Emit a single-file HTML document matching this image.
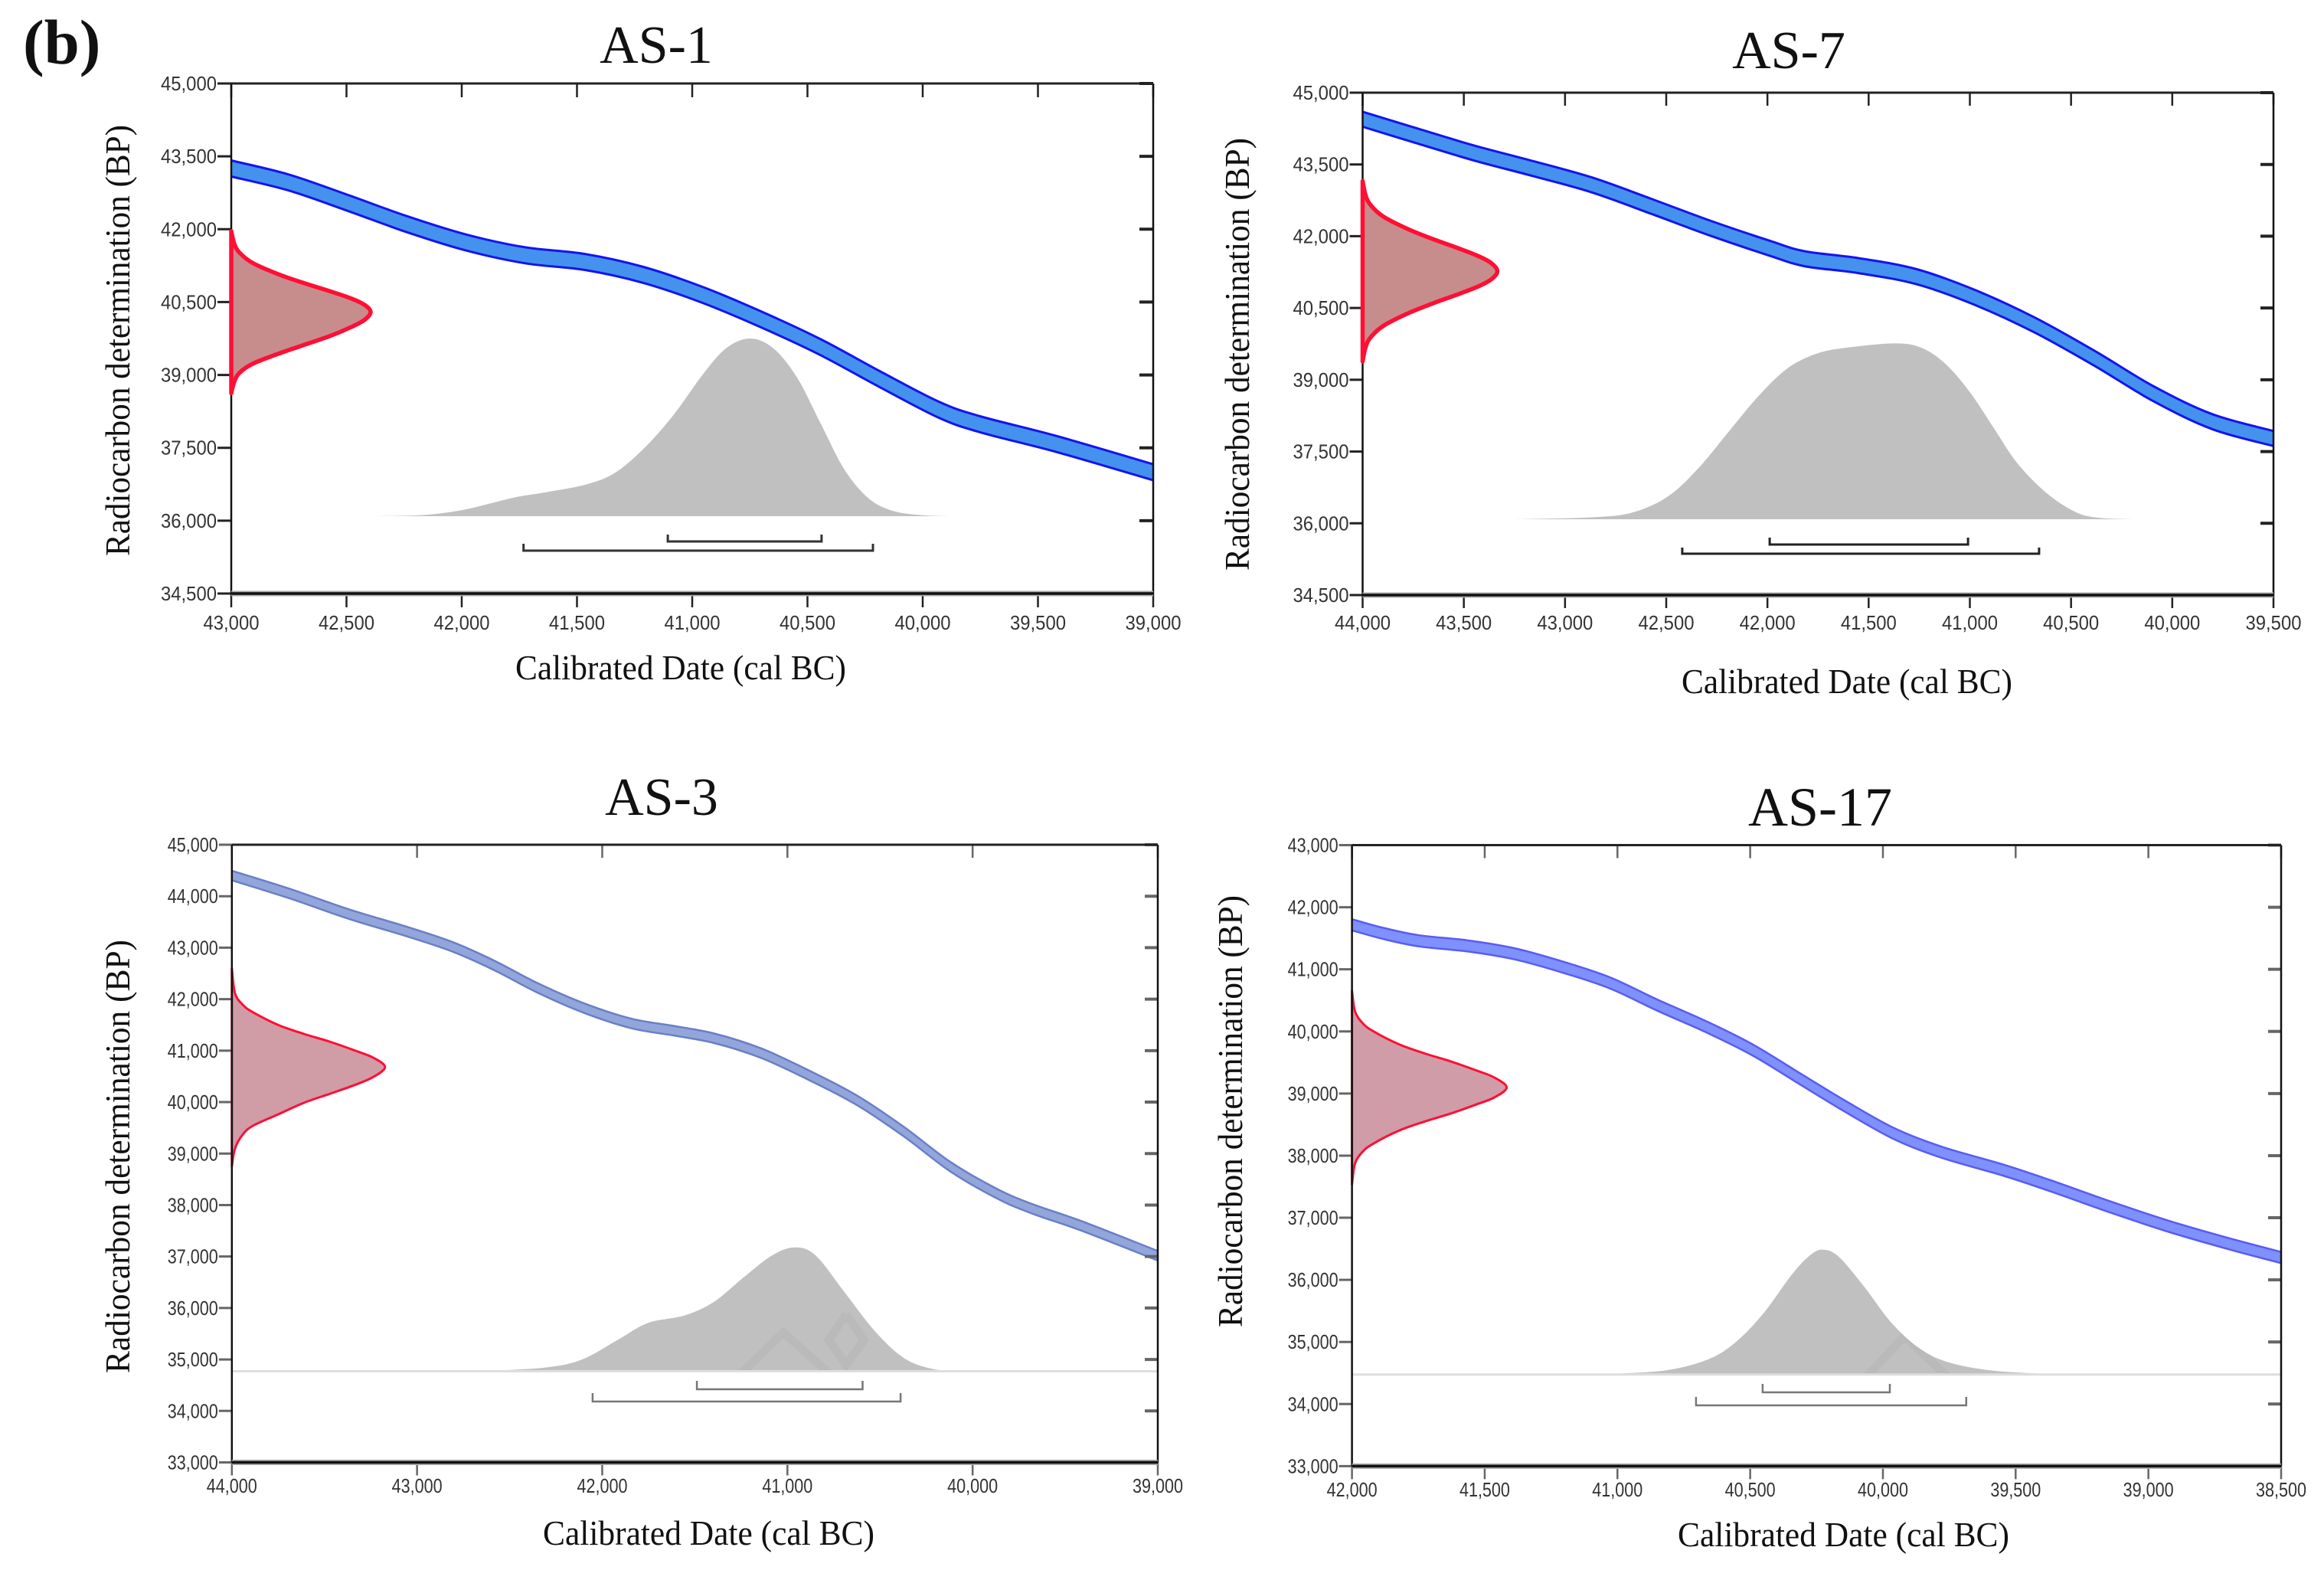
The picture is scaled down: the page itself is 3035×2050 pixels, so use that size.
<!DOCTYPE html>
<html lang="en">
<head>
<meta charset="utf-8">
<title>Radiocarbon calibration plots</title>
<style>
html,body{margin:0;padding:0;background:#fff;width:3035px;height:2050px;overflow:hidden}
svg{display:block}
.serif{font-family:"Liberation Serif",serif;fill:#111}
.tick{font-family:"Liberation Sans",sans-serif;font-size:26px;fill:#333}
</style>
</head>
<body>
<svg id="figure" xmlns="http://www.w3.org/2000/svg" width="3035" height="2050" viewBox="0 0 3035 2050">
  <rect width="3035" height="2050" fill="#fff"/>
  <text class="serif" x="30" y="83" font-size="83" font-weight="bold">(b)</text>

  <text class="serif" x="857" y="82" font-size="70" text-anchor="middle">AS-1</text>
  <text class="serif" x="2336" y="89" font-size="70" text-anchor="middle">AS-7</text>
  <text class="serif" x="864" y="1064" font-size="70" text-anchor="middle">AS-3</text>
  <text class="serif" x="2377" y="1078" font-size="72" text-anchor="middle">AS-17</text>

  <text class="serif" font-size="46" textLength="563" lengthAdjust="spacingAndGlyphs" transform="translate(169 726) rotate(-90)">Radiocarbon determination (BP)</text>
  <text class="serif" font-size="46" textLength="565" lengthAdjust="spacingAndGlyphs" transform="translate(1631 745) rotate(-90)">Radiocarbon determination (BP)</text>
  <text class="serif" font-size="46" textLength="566" lengthAdjust="spacingAndGlyphs" transform="translate(169 1793) rotate(-90)">Radiocarbon determination (BP)</text>
  <text class="serif" font-size="46" textLength="564" lengthAdjust="spacingAndGlyphs" transform="translate(1622 1733) rotate(-90)">Radiocarbon determination (BP)</text>

  <text class="serif" x="673" y="887" font-size="46" textLength="432" lengthAdjust="spacingAndGlyphs">Calibrated Date (cal BC)</text>
  <text class="serif" x="2196" y="905" font-size="46" textLength="432" lengthAdjust="spacingAndGlyphs">Calibrated Date (cal BC)</text>
  <text class="serif" x="709" y="2017" font-size="46" textLength="433" lengthAdjust="spacingAndGlyphs">Calibrated Date (cal BC)</text>
  <text class="serif" x="2191" y="2019" font-size="46" textLength="433" lengthAdjust="spacingAndGlyphs">Calibrated Date (cal BC)</text>
</svg>

<script>
/* ---------- AS-1 data ---------- */
const as1XTicks = [43000,42500,42000,41500,41000,40500,40000,39500,39000];
const as1YTicks = [45000,43500,42000,40500,39000,37500,36000,34500];
const as1CurveDates = [43000,42750,42494,42238,41981,41725,41468,41212,40956,40699,40443,40187,39930,39751,39417,39000];
const as1CurveBp = [43250,42961,42541,42104,41726,41463,41327,41059,40649,40139,39571,38915,38284,37985,37575,36997];
const as1CurveError = 165;
const as1SampleBp = [41962,41699,41515,41305,41069,40885,40717,40569,40438,40296,40139,39991,39808,39624,39440,39230,39046,38862,38625];
const as1SampleDensity = [0,.022,.06,.154,.341,.528,.715,.865,.959,1,.959,.865,.715,.528,.341,.154,.06,.022,0];
const as1CalDates = [42366,42161,41981,41776,41648,41468,41340,41212,41084,40956,40853,40750,40648,40545,40443,40340,40238,40135,40007,39879];
const as1CalDensity = [0,.007,.039,.104,.132,.176,.24,.378,.565,.794,.945,1,.945,.78,.522,.263,.104,.032,.006,0];
const as1Range68 = [41106,40439];
const as1Range95 = [41732,40216];

/* ---------- AS-7 data ---------- */
const as7XTicks = [44000,43500,43000,42500,42000,41500,41000,40500,40000,39500];
const as7YTicks = [45000,43500,42000,40500,39000,37500,36000,34500];
const as7CurveDates = [44000,43744,43452,43160,42868,42576,42284,41992,41817,41554,41262,40971,40679,40387,40095,39803,39500];
const as7CurveBp = [44445,44113,43742,43416,43073,42628,42170,41753,41530,41388,41153,40713,40142,39456,38713,38125,37771];
const as7CurveError = 157;
const as7SampleBp = [43153,42855,42648,42410,42143,41933,41743,41577,41428,41268,41108,40959,40793,40603,40393,40126,39888,39681,39382];
const as7SampleDensity = [0,.022,.06,.154,.341,.528,.715,.865,.959,1,.959,.865,.715,.528,.341,.154,.06,.022,0];
const as7CalDates = [43248,42868,42664,42489,42343,42197,42051,41905,41759,41613,41365,41233,41116,41000,40883,40766,40620,40474,40357,40182];
const as7CalDensity = [0,.011,.039,.132,.288,.49,.692,.855,.941,.975,1,.972,.879,.723,.521,.319,.148,.039,.008,0];
const as7Range68 = [41989,41009];
const as7Range95 = [42421,40658];

/* ---------- AS-3 data ---------- */
const as3XTicks = [44000,43000,42000,41000,40000,39000];
const as3YTicks = [45000,44000,43000,42000,41000,40000,39000,38000,37000,36000,35000,34000,33000];
const as3CurveDates = [44000,43692,43373,43054,42799,42576,42352,42097,41842,41618,41395,41140,40884,40629,40374,40119,39863,39672,39416,39000];
const as3CurveBp = [44402,44056,43658,43312,43004,42643,42223,41824,41527,41389,41240,40947,40522,40044,39433,38742,38211,37918,37600,37015];
const as3CurveError = 93;
const as3SampleBp = [42600,42118,41895,41746,41498,41325,41176,41002,40868,40680,40482,40333,40159,39986,39762,39539,39366,39093,38746];
const as3SampleDensity = [0,.02,.07,.137,.303,.47,.637,.803,.92,1,.92,.803,.637,.47,.303,.137,.07,.02,0];
const as3CalDates = [42861,42623,42307,42109,41911,41753,41555,41397,41239,41080,40954,40843,40685,40526,40368,40210,40052];
const as3CalDensity = [0,.004,.03,.095,.258,.39,.451,.56,.755,.939,1,.928,.625,.321,.104,.017,0];
const as3Range68 = [41489,40594];
const as3Range95 = [42052,40389];

/* ---------- AS-17 data ---------- */
const as17XTicks = [42000,41500,41000,40500,40000,39500,39000,38500];
const as17YTicks = [43000,42000,41000,40000,39000,38000,37000,36000,35000,34000,33000];
const as17CurveDates = [42000,41881,41747,41567,41388,41208,41029,40849,40670,40490,40311,40131,39952,39772,39548,39368,39144,38919,38695,38500];
const as17CurveBp = [41717,41577,41458,41378,41250,41038,40783,40422,40083,39700,39233,38766,38342,38045,37769,37514,37174,36856,36580,36359];
const as17CurveError = 90;
const as17SampleBp = [40656,40321,40131,40004,39794,39646,39519,39373,39259,39098,38937,38823,38677,38550,38402,38192,38065,37875,37535];
const as17SampleDensity = [0,.02,.07,.137,.303,.47,.637,.803,.92,1,.92,.803,.637,.47,.303,.137,.07,.02,0];
const as17CalDates = [41143,41036,40822,40662,40555,40448,40341,40274,40226,40167,40073,39966,39859,39752,39591,39377,39270];
const as17CalDensity = [0,.004,.032,.118,.258,.495,.806,.955,1,.945,.71,.409,.204,.097,.032,.004,0];
const as17Range68 = [40453,39974];
const as17Range95 = [40704,39686];

/* ---------- panel layout (pixels and styles only) ---------- */
const panels = [
  {id:'as-1', l:302, r:1506, t:109, b:775, xd:[43000,39000], yd:[45000,34500],
   xt:as1XTicks, yt:as1YTicks, cd:as1CurveDates, cb:as1CurveBp, ce:as1CurveError,
   sb:as1SampleBp, sd:as1SampleDensity, gd:as1CalDates, gv:as1CalDensity, r68:as1Range68, r95:as1Range95,
   base:674, gh:232, rw:182, rsw:5.5, redOnTop:true,
   band:'#4591ee', edge:'#1414ee', esw:3, rfill:'#c78d8d', tick:'#222', labW:73, xLabY:822,
   b68:[698,707], b95:[710,719], br:'#333', brw:3, baseline:false, tl:18},
  {id:'as-7', l:1779.5, r:2969, t:121, b:777, xd:[44000,39500], yd:[45000,34500],
   xt:as7XTicks, yt:as7YTicks, cd:as7CurveDates, cb:as7CurveBp, ce:as7CurveError,
   sb:as7SampleBp, sd:as7SampleDensity, gd:as7CalDates, gv:as7CalDensity, r68:as7Range68, r95:as7Range95,
   base:678, gh:229.6, rw:176, rsw:5.5, redOnTop:true,
   band:'#4591ee', edge:'#1414ee', esw:3, rfill:'#c78d8d', tick:'#222', labW:73, xLabY:822,
   b68:[702,711], b95:[715,723], br:'#222', brw:3, baseline:false, tl:17},
  {id:'as-3', l:302.8, r:1512, t:1103, b:1909.5, xd:[44000,39000], yd:[45000,33000],
   xt:as3XTicks, yt:as3YTicks, cd:as3CurveDates, cb:as3CurveBp, ce:as3CurveError,
   sb:as3SampleBp, sd:as3SampleDensity, gd:as3CalDates, gv:as3CalDensity, r68:as3Range68, r95:as3Range95,
   base:1790.5, gh:161.7, rw:200, rsw:3, redOnTop:false,
   band:'#93a6dc', edge:'#6a7fc6', esw:2.5, rfill:'#d09ca6', tick:'#666', labW:66, xLabY:1949,
   b68:[1803,1814], b95:[1819,1830], br:'#777', brw:2.5, baseline:true, tl:17,
   marks:[[[966,1795],[1023,1740],[1085,1795]],[[1105,1716],[1128,1750],[1105,1782],[1082,1750],[1105,1716]]]},
  {id:'as-17', l:1765.6, r:2979, t:1103.5, b:1914.4, xd:[42000,38500], yd:[43000,33000],
   xt:as17XTicks, yt:as17YTicks, cd:as17CurveDates, cb:as17CurveBp, ce:as17CurveError,
   sb:as17SampleBp, sd:as17SampleDensity, gd:as17CalDates, gv:as17CalDensity, r68:as17Range68, r95:as17Range95,
   base:1794.7, gh:163, rw:202, rsw:3, redOnTop:false,
   band:'#7f90ff', edge:'#5a5cf0', esw:2.5, rfill:'#cf9ca8', tick:'#666', labW:66, xLabY:1954,
   b68:[1807,1818], b95:[1824,1835], br:'#777', brw:2.5, baseline:true, tl:17,
   marks:[[[2436,1799],[2487,1745],[2545,1799]]]}
];

const NS = 'http://www.w3.org/2000/svg';
const svg = document.getElementById('figure');

function mk(tag, attrs){
  const el = document.createElementNS(NS, tag);
  for (const k in attrs) el.setAttribute(k, attrs[k]);
  svg.appendChild(el);
  return el;
}
function scale(d0, d1, p0, p1){
  return v => p0 + (v - d0) / (d1 - d0) * (p1 - p0);
}
/* smooth path through pixel points (Catmull-Rom to Bezier) */
function smooth(pts, start){
  let d = (start ? 'M' : 'L') + pts[0][0].toFixed(1) + ' ' + pts[0][1].toFixed(1);
  for (let i = 0; i < pts.length - 1; i++){
    const p0 = pts[Math.max(i-1,0)], p1 = pts[i], p2 = pts[i+1], p3 = pts[Math.min(i+2,pts.length-1)];
    const c1x = p1[0] + (p2[0]-p0[0])/6, c1y = p1[1] + (p2[1]-p0[1])/6;
    const c2x = p2[0] - (p3[0]-p1[0])/6, c2y = p2[1] - (p3[1]-p1[1])/6;
    d += 'C' + c1x.toFixed(1) + ' ' + c1y.toFixed(1) + ' ' + c2x.toFixed(1) + ' ' + c2y.toFixed(1) + ' ' + p2[0].toFixed(1) + ' ' + p2[1].toFixed(1);
  }
  return d;
}
function fmt(v){
  const s = String(v);
  return s.slice(0, s.length-3) + ',' + s.slice(-3);
}

function drawPanel(p){
  const x = scale(p.xd[0], p.xd[1], p.l, p.r);
  const y = scale(p.yd[0], p.yd[1], p.t, p.b);

  /* calibrated date distribution */
  const gY = v => p.base - v * p.gh;
  const gPts = p.gd.map((d,i) => [x(d), gY(p.gv[i])]);
  const grayPath = smooth(gPts, true) + 'Z';
  const gray = mk('path', {d: grayPath, fill:'#c0c0c0'});
  
  

  if (p.marks){
    const clip = mk('clipPath', {id:'clip-' + p.id});
    
    
    const cp = document.createElementNS(NS, 'path');
    cp.setAttribute('d', grayPath);
    clip.appendChild(cp);
    p.marks.forEach(m => {
      const wm = mk('polyline', {points: m.map(q => q.join(',')).join(' '), fill:'none', stroke:'#bababa', 'stroke-width':11, 'clip-path':'url(#clip-' + p.id + ')'});
      
      
    });
  }
  if (p.baseline){
    const bl = mk('line', {x1:p.l, x2:p.r, y1:p.base, y2:p.base, stroke:'#dedede', 'stroke-width':3});
    
    
  }

  /* calibration curve band */
  const up = p.cd.map((d,i) => [x(d), y(p.cb[i] + p.ce)]);
  const lo = p.cd.map((d,i) => [x(d), y(p.cb[i] - p.ce)]);
  const bandPath = smooth(up, true) + smooth(lo.slice().reverse(), false) + 'Z';
  const band = mk('path', {d: bandPath, fill:p.band, stroke:'none'});
  
  
  const upE = mk('path', {d: smooth(up, true), fill:'none', stroke:p.edge, 'stroke-width':p.esw});
  
  
  const loE = mk('path', {d: smooth(lo, true), fill:'none', stroke:p.edge, 'stroke-width':p.esw});
  
  

  /* sample radiocarbon distribution */
  const drawRed = () => {
    const rPts = p.sb.map((b,i) => [p.l + p.sd[i] * p.rw, y(b)]);
    const red = mk('path', {d: smooth(rPts, true) + 'Z', fill:p.rfill, stroke:'#ff0f35', 'stroke-width':p.rsw, 'stroke-linejoin':'round'});
    
    
  };
  if (!p.redOnTop) drawRed();

  /* range brackets */
  [[p.r68, p.b68, '68'], [p.r95, p.b95, '95']].forEach(item => {
    const rg = item[0], yy = item[1];
    const d = 'M' + x(rg[0]).toFixed(1) + ' ' + yy[0] + 'V' + yy[1] + 'H' + x(rg[1]).toFixed(1) + 'V' + yy[0];
    const br = mk('path', {d: d, fill:'none', stroke:p.br, 'stroke-width':p.brw});
    
    
  });

  /* ticks */
  p.xt.forEach(v => {
    const tx = x(v);
    const top = mk('line', {x1:tx, x2:tx, y1:p.t, y2:p.t + p.tl, stroke:p.tick, 'stroke-width':2.5});
    
    
    const bot = mk('line', {x1:tx, x2:tx, y1:p.b, y2:p.b + p.tl, stroke:p.tick, 'stroke-width':2.5});
    
    
    const lab = mk('text', {class:'tick', x:tx, y:p.xLabY, 'text-anchor':'middle', textLength:p.labW, lengthAdjust:'spacingAndGlyphs'});
    lab.textContent = fmt(v);
    
    
  });
  p.yt.forEach(v => {
    const ty = y(v);
    const left = mk('line', {x1:p.l - p.tl, x2:p.l, y1:ty, y2:ty, stroke:p.tick, 'stroke-width':3});
    
    
    const right = mk('line', {x1:p.r - p.tl, x2:p.r, y1:ty, y2:ty, stroke:p.tick, 'stroke-width':4});
    
    
    const lab = mk('text', {class:'tick', x:p.l - p.tl - 1, y:ty + 9, 'text-anchor':'end', textLength:p.labW, lengthAdjust:'spacingAndGlyphs'});
    lab.textContent = fmt(v);
    
    
  });

  /* frame */
  const leftAxis = mk('line', {x1:p.l, x2:p.l, y1:p.t, y2:p.b, stroke:'#111', 'stroke-width':2.5});
  
  
  const rightAxis = mk('line', {x1:p.r, x2:p.r, y1:p.t, y2:p.b, stroke:'#111', 'stroke-width':2.5});
  
  
  const topAxis = mk('line', {x1:p.l, x2:p.r, y1:p.t, y2:p.t, stroke:'#222', 'stroke-width':3});
  
  
  const halo = mk('line', {x1:p.l, x2:p.r, y1:p.b, y2:p.b, stroke:'#aaa', 'stroke-width':7});
  
  
  const botAxis = mk('line', {x1:p.l, x2:p.r, y1:p.b, y2:p.b, stroke:'#111', 'stroke-width':3.5});
  
  

  if (p.redOnTop) drawRed();
}
panels.forEach(drawPanel);
</script>
</body>
</html>
